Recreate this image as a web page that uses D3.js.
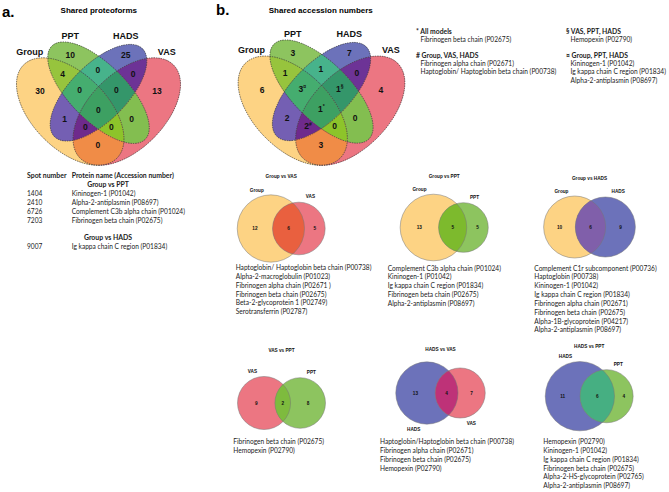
<!DOCTYPE html>
<html><head><meta charset="utf-8">
<script src="https://cdn.jsdelivr.net/npm/d3@7"></script>
<style>body{margin:0;background:#fff}svg{display:block}</style>
</head><body>
<svg id="c" width="669" height="492"></svg>
<script>
// ---------------- DATA ----------------
const setNames = ["Group", "PPT", "HADS", "VAS"];
const regionKeys = ["G","P","H","V","GP","PH","HV","GPH","PHV","GPHV","GH","PV","GHV","GPV","GV"];
const proteoformCounts = [30,10,25,13,4,0,0,0,0,0,1,0,0,0,0];
const accessionCounts  = [6,3,7,4,1,1,0,3,1,1,2,0,2,0,3];
const accessionMarks   = ["","","","","","","","\u00A4","\u00A7","*","","","#","",""];

const tableHeader = ["Spot number", "Protein name (Accession number)"];
const tableGroups = ["Group vs PPT", "Group vs HADS"];
const spotsGroupPPT = ["1404", "2410", "6726", "7203"];
const proteinsGroupPPT = ["Kininogen-1 (P01042)", "Alpha-2-antiplasmin (P08697)", "Complement C3b alpha chain (P01024)", "Fibrinogen beta chain (P02675)"];
const spotsGroupHADS = ["9007"];
const proteinsGroupHADS = ["Ig kappa chain C region (P01834)"];

const noteHeads = ["* All models", "# Group, VAS, HADS", "\u00A7 VAS, PPT, HADS", "\u00A4 Group, PPT, HADS"];
const noteItems = [
  ["Fibrinogen beta chain (P02675)"],
  ["Fibrinogen alpha chain (P02671)", "Haptoglobin/ Haptoglobin  beta chain (P00738)"],
  ["Hemopexin (P02790)"],
  ["Kininogen-1 (P01042)", "Ig kappa chain C region (P01834)", "Alpha-2-antiplasmin (P08697)"]
];

const pairTitles = ["Group vs VAS", "Group vs PPT", "Group vs HADS", "VAS vs PPT", "HADS vs VAS", "HADS vs PPT"];
const pairSetA = ["Group", "Group", "Group", "VAS", "HADS", "HADS"];
const pairSetB = ["VAS", "PPT", "HADS", "PPT", "VAS", "PPT"];
const pairOnlyA = [12, 13, 10, 9, 13, 11];
const pairShared = [6, 5, 6, 2, 4, 6];
const pairOnlyB = [5, 5, 9, 8, 7, 4];
const pairProteins = [
  ["Haptoglobin/ Haptoglobin beta chain (P00738)", "Alpha-2-macroglobulin (P01023)", "Fibrinogen alpha chain (P02671 )", "Fibrinogen beta chain (P02675)", "Beta-2-glycoprotein 1 (P02749)", "Serotransferrin (P02787)"],
  ["Complement C3b alpha chain (P01024)", "Kininogen-1 (P01042)", "Ig kappa chain C region (P01834)", "Fibrinogen beta chain (P02675)", "Alpha-2-antiplasmin (P08697)"],
  ["Complement C1r subcomponent (P00736)", "Haptoglobin (P00738)", "Kininogen-1 (P01042)", "Ig kappa chain C region (P01834)", "Fibrinogen alpha chain (P02671)", "Fibrinogen beta chain (P02675)", "Alpha-1B-glycoprotein (P04217)", "Alpha-2-antiplasmin (P08697)"],
  ["Fibrinogen beta chain (P02675)", "Hemopexin (P02790)"],
  ["Haptoglobin/Haptoglobin beta chain (P00738)", "Fibrinogen alpha chain (P02671)", "Fibrinogen beta chain (P02675)", "Hemopexin (P02790)"],
  ["Hemopexin (P02790)", "Kininogen-1 (P01042)", "Ig kappa chain C region (P01834)", "Fibrinogen beta chain (P02675)", "Alpha-2-HS-glycoprotein (P02765)", "Alpha-2-antiplasmin (P08697)"]
];

// ---------------- STYLE / LAYOUT ----------------
const BOLD = "'Liberation Sans', Arial, sans-serif";
const BODY = "Lato, 'Open Sans', sans-serif";
const TXT = "#1b1b1b";
const LIST_FS = 6.6;
const setColor = {Group: "#FDD384", PPT: "#8DC45F", HADS: "#6C72BA", VAS: "#EC7682"};
const letterOf = {Group: "G", PPT: "P", HADS: "H", VAS: "V"};
const regionColor = {G:"#FDD384",P:"#8DC45F",H:"#6C72BA",V:"#EC7682",GP:"#97C43D",PH:"#47B38B",HV:"#6D3396",
  GPH:"#45AD6F",PHV:"#34966A",GPHV:"#3DA062",GH:"#745FB3",PV:"#83BE50",GHV:"#6E2A8C",GPV:"#8DC42A",GV:"#F08C47"};
const pairLensColor = ["#E9603F", "#7DBA2D", "#805FAA", "#7EBB3E", "#BE3278", "#46AF82"];

// unit-square geometry of the 4-ellipse layout
const ellipseSpec = [
  {set: "Group", cx: .35, cy: .47, a: .35, b: .20, rot: 45},
  {set: "PPT",   cx: .50, cy: .57, a: .35, b: .15, rot: 45},
  {set: "HADS",  cx: .50, cy: .57, a: .33, b: .15, rot: -45},
  {set: "VAS",   cx: .65, cy: .47, a: .35, b: .20, rot: -45}
];
const regionPos = {G:[.19,.578],P:[.35,.772],H:[.645,.772],V:[.81,.578],GP:[.31,.668],PH:[.497,.688],HV:[.684,.668],
  GPH:[.40,.584],PHV:[.595,.584],GPHV:[.499,.479],GH:[.32,.432],PV:[.676,.432],GHV:[.43,.388],GPV:[.568,.388],GV:[.497,.293]};
const setLabelPos = {Group:[.135,.787], PPT:[.35,.872], HADS:[.645,.872], VAS:[.862,.787]};

const svg = d3.select("#c");
const defs = svg.append("defs");

function drawQuad(id, ox, s, y0, counts, marks) {
  const x = d3.scaleLinear().domain([0, 1]).range([ox, ox + s]);
  const y = d3.scaleLinear().domain([0, 1]).range([y0, y0 - s]);
  const g = svg.append("g");
  const ell = sel => sel
    .attr("cx", d => x(d.cx)).attr("cy", d => y(d.cy))
    .attr("rx", d => d.a * s).attr("ry", d => d.b * s)
    .attr("transform", d => `rotate(${d.rot},${x(d.cx)},${y(d.cy)})`);
  ellipseSpec.forEach((e, i) => {
    defs.append("clipPath").attr("id", `${id}c${i}`).append("ellipse").datum(e).call(ell);
  });
  g.selectAll("ellipse.base").data(ellipseSpec).join("ellipse").attr("class", "base").call(ell)
    .attr("fill", d => setColor[d.set]);
  const bx = x(0), by = y(1), bw = s, bh = s;
  regionKeys.forEach((key, ri) => {
    const inIdx = [], outIdx = [];
    ellipseSpec.forEach((e, i) => (key.includes(letterOf[e.set]) ? inIdx : outIdx).push(i));
    const mid = `${id}m${ri}`;
    const m = defs.append("mask").attr("id", mid).attr("maskUnits", "userSpaceOnUse")
      .attr("x", bx).attr("y", by).attr("width", bw).attr("height", bh);
    m.append("rect").attr("x", bx).attr("y", by).attr("width", bw).attr("height", bh).attr("fill", "white");
    outIdx.forEach(j => m.append("ellipse").datum(ellipseSpec[j]).call(ell).attr("fill", "black"));
    let node = g;
    inIdx.forEach(j => { node = node.append("g").attr("clip-path", `url(#${id}c${j})`); });
    node.append("rect").attr("x", bx).attr("y", by).attr("width", bw).attr("height", bh)
      .attr("fill", regionColor[key]).attr("mask", `url(#${mid})`);
  });
  g.selectAll("ellipse.out").data(ellipseSpec).join("ellipse").attr("class", "out").call(ell)
    .attr("fill", "none").attr("stroke", "#3a3a3a").attr("stroke-width", 0.7).attr("stroke-dasharray", "1.4,1");
  regionKeys.forEach((key, ri) => {
    const t = g.append("text").attr("x", x(regionPos[key][0])).attr("y", y(regionPos[key][1]))
      .attr("text-anchor", "middle").attr("dominant-baseline", "central")
      .attr("font-family", BOLD).attr("font-weight", "bold").attr("font-size", 8.5).attr("fill", "#111");
    t.append("tspan").text(counts[ri]);
    if (marks && marks[ri]) t.append("tspan").attr("font-size", 5).attr("dy", -2.5).text(marks[ri]);
  });
  setNames.forEach(n => {
    g.append("text").attr("x", x(setLabelPos[n][0])).attr("y", y(setLabelPos[n][1]))
      .attr("text-anchor", "middle").attr("dominant-baseline", "central")
      .attr("font-family", BOLD).attr("font-weight", "bold").attr("font-size", 9).attr("fill", "#111").text(n);
  });
}

function txt(x, y, s, o = {}) {
  return svg.append("text").attr("x", x).attr("y", y).text(s)
    .attr("font-family", o.f || BODY).attr("font-size", o.fs || LIST_FS)
    .attr("font-weight", o.b ? "bold" : "normal").attr("fill", o.c || TXT)
    .attr("text-anchor", o.a || "start");
}
txt(2, 17, "a.", {f: BOLD, fs: 15, b: 1, c: "#000"});
txt(216, 15, "b.", {f: BOLD, fs: 15, b: 1, c: "#000"});
txt(98.8, 13, "Shared proteoforms", {f: BOLD, fs: 8, b: 1, a: "middle", c: "#000"});
txt(320.8, 13, "Shared accession numbers", {f: BOLD, fs: 8, b: 1, a: "middle", c: "#000"});

drawQuad("qa", 4.25, 188.5, 200.15, proteoformCounts, null);
drawQuad("qb", 225.7, 191.6, 200.75, accessionCounts, accessionMarks);

// table (panel a)
const tX1 = 27, tX2 = 71.7, tY = 178, tDy = 8.9;
txt(tX1, tY, tableHeader[0], {b: 1, fs: 6.9});
txt(tX2, tY, tableHeader[1], {b: 1, fs: 6.9});
txt(108, tY + tDy, tableGroups[0], {b: 1, a: "middle", fs: 6.9});
spotsGroupPPT.forEach((s, i) => { txt(tX1, tY + tDy * (i + 2), s); txt(tX2, tY + tDy * (i + 2), proteinsGroupPPT[i]); });
txt(108, 240, tableGroups[1], {b: 1, a: "middle", fs: 6.9});
spotsGroupHADS.forEach((s, i) => { txt(tX1, 249 + tDy * i, s); txt(tX2, 249 + tDy * i, proteinsGroupHADS[i]); });

// notes (panel b)
const noteLayout = [[416, 33.5], [416, 58.2], [566, 33.5], [566, 58.2]];
noteHeads.forEach((h, i) => {
  const [nx, ny] = noteLayout[i];
  txt(nx, ny, h, {b: 1, fs: 6.8});
  noteItems[i].forEach((it, j) => txt(nx + 4.5, ny + 8.1 * (j + 1), it));
});

// pairwise Venns
const pairLayout = [
  {cx: 281.2, cy: 228.5, k: 7.93, sx: 1, titleY: 176.5, side: -1, lx: 235.7, ly: 270},
  {cx: 444.2, cy: 227.5, k: 7.85, sx: 1, titleY: 176.5, side: -1, lx: 387.7, ly: 270.5},
  {cx: 589.5, cy: 227.0, k: 7.75, sx: 1, titleY: 177.8, side: -1, lx: 534.3, ly: 270.5},
  {cx: 281.5, cy: 403.0, k: 8.0,  sx: 1, titleY: 350.5, side: -1, lx: 233.3, ly: 444},
  {cx: 440.5, cy: 393.0, k: 7.55, sx: 1, titleY: 348.8, side: 1,  lx: 380,   ly: 444},
  {cx: 589.2, cy: 396.2, k: 8.4,  sx: 1, titleY: 346.5, side: -1, lx: 543.3, ly: 444}
];
function lensArea(r1, r2, d) {
  if (d >= r1 + r2) return 0;
  if (d <= Math.abs(r1 - r2)) return Math.PI * Math.min(r1, r2) ** 2;
  const a1 = Math.acos((d * d + r1 * r1 - r2 * r2) / (2 * d * r1));
  const a2 = Math.acos((d * d + r2 * r2 - r1 * r1) / (2 * d * r2));
  return r1 * r1 * a1 + r2 * r2 * a2 - 0.5 * Math.sqrt((-d + r1 + r2) * (d + r1 - r2) * (d - r1 + r2) * (d + r1 + r2));
}
pairTitles.forEach((title, i) => {
  const L = pairLayout[i];
  const r = d3.scaleSqrt().domain([0, 1]).range([0, L.k]);
  const nA = pairOnlyA[i] + pairShared[i], nB = pairOnlyB[i] + pairShared[i];
  const rA = r(nA), rB = r(nB);
  const target = Math.PI * r(1) ** 2 * pairShared[i];
  let lo = Math.abs(rA - rB), hi = rA + rB;
  for (let it = 0; it < 60; it++) { const m = (lo + hi) / 2; if (lensArea(rA, rB, m) > target) lo = m; else hi = m; }
  const d = (lo + hi) / 2;
  const W = (rA + d + rB) * L.sx;
  const xA = L.cx - W / 2 + rA * L.sx, xB = xA + d * L.sx;
  const g = svg.append("g");
  const cid = "pc" + i;
  defs.append("clipPath").attr("id", cid).append("ellipse").attr("cx", xA).attr("cy", L.cy).attr("rx", rA * L.sx).attr("ry", rA);
  g.append("ellipse").attr("cx", xA).attr("cy", L.cy).attr("rx", rA * L.sx).attr("ry", rA).attr("fill", setColor[pairSetA[i]]);
  g.append("ellipse").attr("cx", xB).attr("cy", L.cy).attr("rx", rB * L.sx).attr("ry", rB).attr("fill", setColor[pairSetB[i]]);
  g.append("ellipse").attr("cx", xB).attr("cy", L.cy).attr("rx", rB * L.sx).attr("ry", rB).attr("fill", pairLensColor[i]).attr("clip-path", `url(#${cid})`);
  [[xA, rA], [xB, rB]].forEach(([cx, rr]) => g.append("ellipse").attr("cx", cx).attr("cy", L.cy).attr("rx", rr * L.sx).attr("ry", rr)
    .attr("fill", "none").attr("stroke", "#777").attr("stroke-width", 0.5));
  const aL = xA - rA * L.sx, aR = xA + rA * L.sx, bL = xB - rB * L.sx, bR = xB + rB * L.sx;
  const small = {f: BOLD, fs: 4.7, b: 1, a: "middle", c: "#111"};
  [[(aL + bL) / 2, pairOnlyA[i]], [(bL + aR) / 2, pairShared[i]], [(aR + bR) / 2, pairOnlyB[i]]].forEach(([lx, v]) =>
    txt(lx, L.cy + 1.7, v, small));
  const ang = 20 * Math.PI / 180;
  txt(xA - Math.sin(ang) * (rA + 7.5) * L.sx, L.cy + L.side * Math.cos(ang) * (rA + 7.5) + 1.7, pairSetA[i], small);
  txt(xB + Math.sin(ang) * (rB + 7.5) * L.sx, L.cy + L.side * Math.cos(ang) * (rB + 7.5) + 1.7, pairSetB[i], small);
  txt(L.cx, L.titleY + 1.7, title, small);
  pairProteins[i].forEach((p, j) => txt(L.lx, L.ly + 8.85 * j, p));
});
</script>
</body></html>
